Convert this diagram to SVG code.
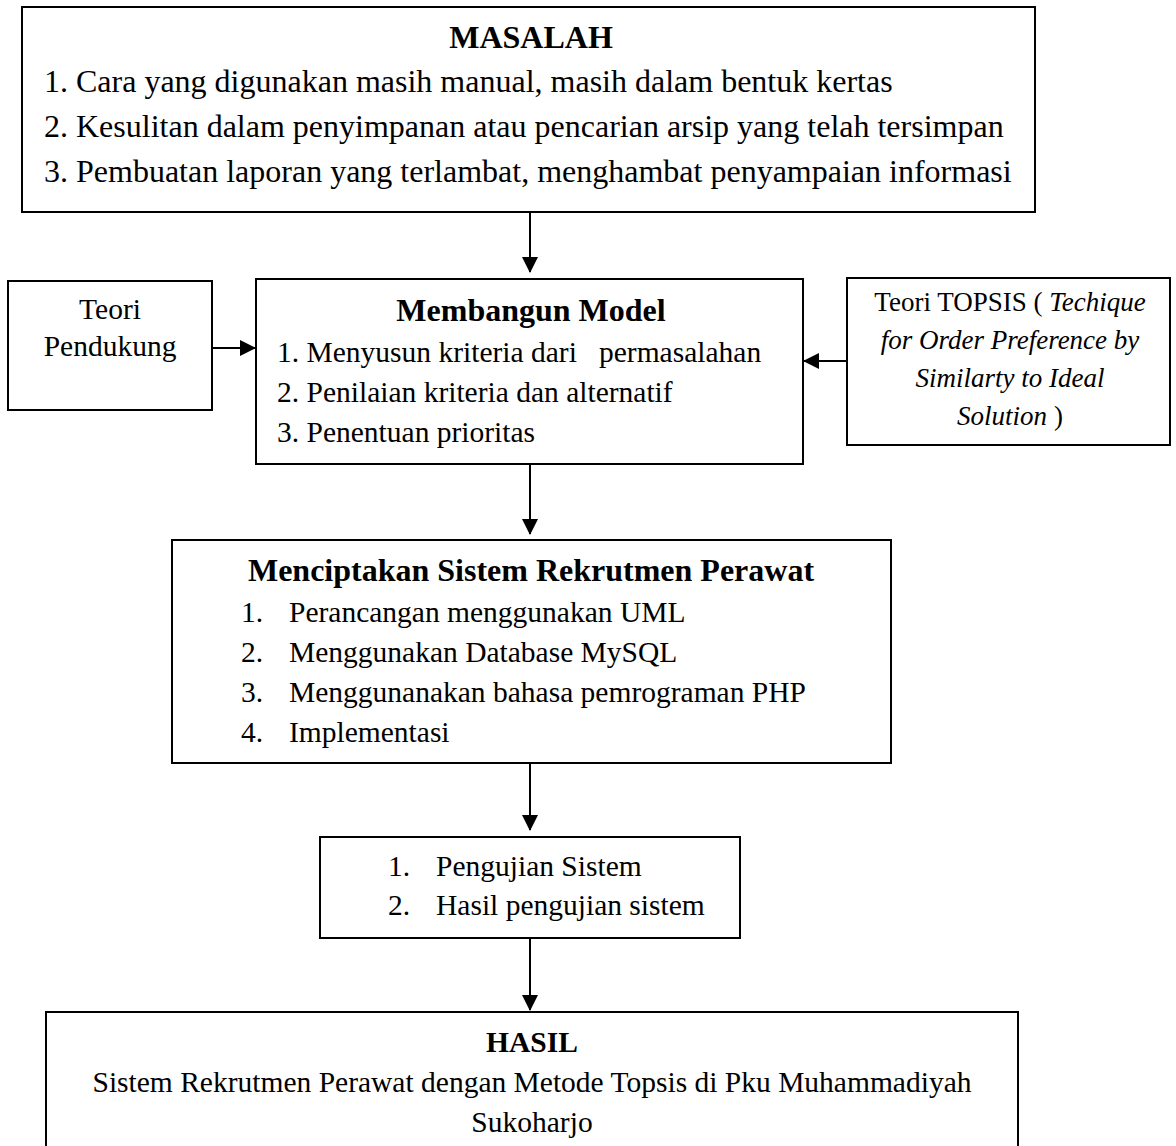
<svg xmlns="http://www.w3.org/2000/svg" width="1176" height="1146" viewBox="0 0 1176 1146">
<defs>
<marker id="ah" markerWidth="8" markerHeight="8" refX="7.5" refY="4" orient="auto" markerUnits="strokeWidth">
<path d="M0,0 L8,4 L0,8 Z" fill="#000"/>
</marker>
<style>
.box{fill:#fff;stroke:#000;stroke-width:2}
.t{font-family:"Liberation Serif","Times New Roman",serif;fill:#000}
.b{font-weight:bold}
.c{text-anchor:middle}
.s32{font-size:32px}
.s29{font-size:29.5px}
.s27{font-size:27px}
.i{font-style:italic}
.conn{stroke:#000;stroke-width:2;fill:none;marker-end:url(#ah)}
</style>
</defs>
<rect width="1176" height="1146" fill="#fff"/>
<g id="connectors">
<line class="conn" x1="530" y1="213" x2="530" y2="272"/>
<line class="conn" x1="212" y1="348" x2="255" y2="348"/>
<line class="conn" x1="847" y1="361" x2="804" y2="361"/>
<line class="conn" x1="530" y1="465" x2="530" y2="534"/>
<line class="conn" x1="530" y1="763" x2="530" y2="830"/>
<line class="conn" x1="530" y1="938" x2="530" y2="1010"/>
</g>
<g id="masalah">
<rect class="box" x="22" y="7" width="1013" height="205"/>
<text class="t b c s32" x="531" y="48">MASALAH</text>
<text class="t s32" x="44" y="92">1. Cara yang digunakan masih manual, masih dalam bentuk kertas</text>
<text class="t s32" x="44" y="137">2. Kesulitan dalam penyimpanan atau pencarian arsip yang telah tersimpan</text>
<text class="t s32" x="44" y="182">3. Pembuatan laporan yang terlambat, menghambat penyampaian informasi</text>
</g>
<g id="teori-pendukung">
<rect class="box" x="8" y="281" width="204" height="129"/>
<text class="t c s29" x="110" y="319">Teori</text>
<text class="t c s29" x="110" y="356">Pendukung</text>
</g>
<g id="membangun-model">
<rect class="box" x="256" y="279" width="547" height="185"/>
<text class="t b c s32" x="531" y="321">Membangun Model</text>
<text class="t s29" x="277" y="362" xml:space="preserve">1. Menyusun kriteria dari   permasalahan</text>
<text class="t s29" x="277" y="402">2. Penilaian kriteria dan alternatif</text>
<text class="t s29" x="277" y="442">3. Penentuan prioritas</text>
</g>
<g id="teori-topsis">
<rect class="box" x="847" y="278" width="323" height="167"/>
<text class="t c s27" x="1010" y="311">Teori TOPSIS ( <tspan class="i">Techique</tspan></text>
<text class="t c s27 i" x="1010" y="349">for Order Preference by</text>
<text class="t c s27 i" x="1010" y="387">Similarty to Ideal</text>
<text class="t c s27" x="1010" y="425"><tspan class="i">Solution</tspan> )</text>
</g>
<g id="menciptakan-sistem">
<rect class="box" x="172" y="540" width="719" height="223"/>
<text class="t b c s32" x="531" y="581">Menciptakan Sistem Rekrutmen Perawat</text>
<text class="t s29" x="241" y="622">1.</text><text class="t s29" x="289" y="622">Perancangan menggunakan UML</text>
<text class="t s29" x="241" y="662">2.</text><text class="t s29" x="289" y="662">Menggunakan Database MySQL</text>
<text class="t s29" x="241" y="702">3.</text><text class="t s29" x="289" y="702">Menggunanakan bahasa pemrograman PHP</text>
<text class="t s29" x="241" y="742">4.</text><text class="t s29" x="289" y="742">Implementasi</text>
</g>
<g id="pengujian">
<rect class="box" x="320" y="837" width="420" height="101"/>
<text class="t s29" x="388" y="876">1.</text><text class="t s29" x="436" y="876">Pengujian Sistem</text>
<text class="t s29" x="388" y="915">2.</text><text class="t s29" x="436" y="915">Hasil pengujian sistem</text>
</g>
<g id="hasil">
<rect class="box" x="46" y="1012" width="972" height="145"/>
<text class="t b c s29" x="532" y="1052">HASIL</text>
<text class="t c s29" x="532" y="1092">Sistem Rekrutmen Perawat dengan Metode Topsis di Pku Muhammadiyah</text>
<text class="t c s29" x="532" y="1132">Sukoharjo</text>
</g>
</svg>
